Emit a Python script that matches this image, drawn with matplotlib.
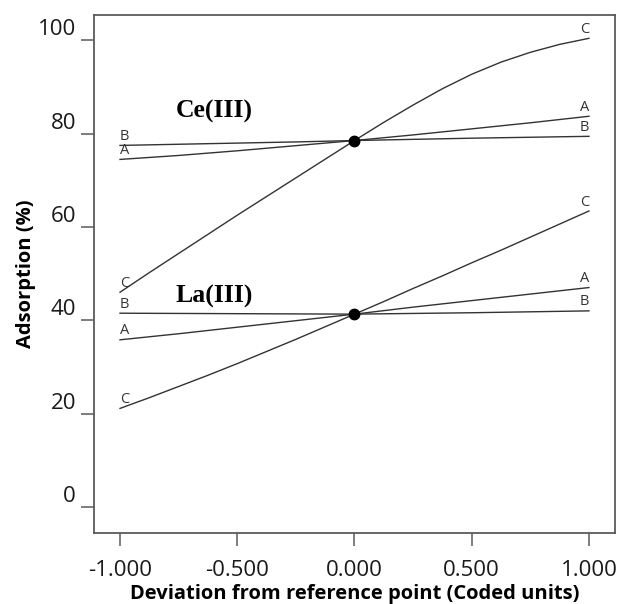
import numpy as np
import matplotlib
matplotlib.use('Agg')
import matplotlib.pyplot as plt

# Data (coded deviation from the reference point):
xCoded = np.array([-1.0, -0.75, -0.5, -0.25, 0.0, 0.25, 0.5, 0.75, 1.0])
xFine  = np.array([-1.0, -0.875, -0.75, -0.625, -0.5, -0.375, -0.25, -0.125, 0.0,
                   0.125, 0.25, 0.375, 0.5, 0.625, 0.75, 0.875, 1.0])

ceA = np.array([74.45, 75.3, 76.3, 77.4, 78.5, 79.7, 81.0, 82.3, 83.7])
ceB = np.array([77.45, 77.7, 77.95, 78.2, 78.5, 78.75, 79.0, 79.2, 79.4])
ceC = np.array([46.0, 50.2, 54.3, 58.4, 62.5, 66.5, 70.5, 74.5, 78.5,
                82.4, 86.1, 89.6, 92.7, 95.3, 97.4, 99.1, 100.4])

laA = np.array([35.8, 37.1, 38.5, 39.9, 41.3, 42.8, 44.2, 45.6, 47.0])
laB = np.array([41.5, 41.45, 41.4, 41.35, 41.3, 41.45, 41.6, 41.8, 42.0])
laC = np.array([21.1, 23.4, 25.8, 28.2, 30.7, 33.3, 35.9, 38.6, 41.3,
                44.0, 46.8, 49.5, 52.3, 55.0, 57.8, 60.6, 63.4])

refCe = 78.5   # Reference point, Ce(III)
refLa = 41.3   # Reference point, La(III)

xTicks = [-1.0, -0.5, 0.0, 0.5, 1.0]
xTickLabels = ['-1.000', '-0.500', '0.000', '0.500', '1.000']
yTicks = [0, 20, 40, 60, 80, 100]

lineCol  = '#333333'
frameCol = '#5a5a5a'
sansFont = 'Open Sans'

fig = plt.figure(figsize=(6.18, 6.04), dpi=100)
ax = fig.add_axes([0.1521, 0.1175, 0.843, 0.8577])

# Traces with small component letters at both ends:
traces = [(xCoded, ceA, 'A'), (xCoded, ceB, 'B'), (xFine, ceC, 'C'),
          (xCoded, laA, 'A'), (xCoded, laB, 'B'), (xFine, laC, 'C')]
for xs, ys, letter in traces:
    ax.plot(xs, ys, color=lineCol, lw=1.0)
    ax.annotate(letter, (xs[0], ys[0]), xytext=(0, 1.0), textcoords='offset points',
                ha='left', va='bottom', fontsize=10.5, color=lineCol, family=sansFont)
    ax.annotate(letter, (xs[-1], ys[-1]), xytext=(0, 1.0), textcoords='offset points',
                ha='right', va='bottom', fontsize=10.5, color=lineCol, family=sansFont)

# Reference points:
ax.plot([0, 0], [refCe, refLa], 'o', color='black', ms=7.5, ls='none')

# Element labels:
ax.text(-0.598, 84.8, 'Ce(III)', family='Liberation Serif', weight='bold', fontsize=18.5,
        ha='center', va='center')
ax.text(-0.598, 45.0, 'La(III)', family='Liberation Serif', weight='bold', fontsize=18.5,
        ha='center', va='center')

ax.set_xlim(-1.111, 1.111)
ax.set_ylim(-5.6, 105.4)

ax.set_xticks(xTicks)
ax.set_xticklabels(xTickLabels)
ax.set_yticks(yTicks)
for lab in ax.get_yticklabels():
    lab.set_verticalalignment('bottom')

ax.tick_params(direction='out', length=9.5, width=1.1, color=frameCol,
               labelsize=16, labelcolor='#1a1a1a', pad=3.5)
ax.tick_params(axis='x', pad=10)
for lab in ax.get_xticklabels() + ax.get_yticklabels():
    lab.set_family(sansFont)

for sp in ax.spines.values():
    sp.set_color(frameCol)
    sp.set_linewidth(1.3)

ax.set_xlabel('Deviation from reference point (Coded units)', family=sansFont,
              weight='bold', fontsize=14.5, labelpad=2)
ax.set_ylabel('Adsorption (%)', family=sansFont, weight='bold', fontsize=14.5, labelpad=1)

plt.savefig('out.png', dpi=100)
plt.close()
